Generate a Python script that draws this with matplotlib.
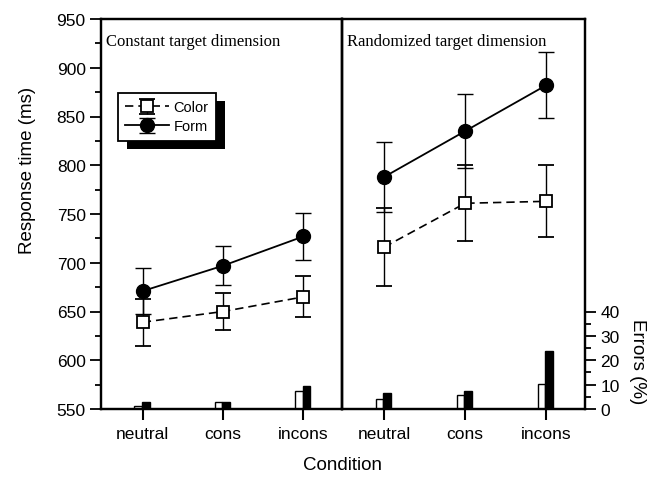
import matplotlib
matplotlib.use("Agg")
import matplotlib.pyplot as plt
from matplotlib.patches import Rectangle
from matplotlib.ticker import MultipleLocator
import numpy as np

conditions = ["neutral", "cons", "incons"]
panels = ["Constant target dimension", "Randomized target dimension"]

# Response times (ms): [panel][condition]
rt_color = [[639, 650, 665], [716, 761, 763]]
rt_color_err = [[24, 19, 21], [40, 39, 37]]
rt_form = [[671, 697, 727], [788, 835, 882]]
rt_form_err = [[24, 20, 24], [36, 38, 34]]

# Errors (%)
err_color = [[1.2, 2.7, 7.4], [3.9, 5.7, 10.3]]
err_form = [[2.9, 2.7, 9.5], [6.6, 7.2, 23.8]]

rt_ticks = [550, 600, 650, 700, 750, 800, 850, 900, 950]
err_ticks = [0, 10, 20, 30, 40]

plt.rcParams['font.family'] = ['Liberation Sans', 'DejaVu Sans']

fig = plt.figure(figsize=(6.61, 4.81), dpi=100)
W, H = 661, 481
left, mid, right = 101, 342, 585
top, bot = 20, 410
axL = fig.add_axes([left / W, 1 - bot / H, (mid - left) / W, (bot - top) / H])
axR = fig.add_axes([mid / W, 1 - bot / H, (right - mid) / W, (bot - top) / H])

x = np.arange(len(conditions))
bw = 0.095
for i, ax in enumerate([axL, axR]):
    ax.set_xlim(-0.52, 2.48)
    ax.set_ylim(550, 950)
    tw = ax.twinx()
    tw.set_ylim(0, 160)
    tw.bar(x - bw / 2 - 0.01, err_color[i], width=bw, facecolor='white',
           edgecolor='black', linewidth=1.0, zorder=2)
    tw.bar(x + bw / 2 - 0.01, err_form[i], width=bw, facecolor='black',
           edgecolor='black', linewidth=1.0, zorder=2)
    ax.errorbar(x, rt_color[i], yerr=rt_color_err[i], color='black', linestyle=(0, (5, 3)),
                linewidth=1.2, marker='s', markersize=9, markerfacecolor='white',
                markeredgecolor='black', markeredgewidth=1.3, ecolor='black',
                elinewidth=1.0, capsize=5.5, capthick=1.0, label='Color', zorder=3)
    ax.errorbar(x, rt_form[i], yerr=rt_form_err[i], color='black', linestyle='-',
                linewidth=1.3, marker='o', markersize=10, markerfacecolor='black',
                markeredgecolor='black', ecolor='black',
                elinewidth=1.0, capsize=5.5, capthick=1.0, label='Form', zorder=4)
    ax.set_zorder(tw.get_zorder() + 1)
    ax.patch.set_visible(False)
    for a in (ax, tw):
        for s in a.spines.values():
            s.set_linewidth(1.6)
    ax.set_xticks(x)
    ax.set_xticklabels(conditions, fontsize=12.5)
    ax.tick_params(axis='x', direction='out', length=8, width=1.5, pad=4)
    ax.text(0.02, 0.965, panels[i], transform=ax.transAxes, fontsize=12,
            family=['Liberation Serif'], ha='left', va='top')
    if i == 0:
        ax.set_yticks(rt_ticks)
        ax.yaxis.set_minor_locator(MultipleLocator(25))
        ax.tick_params(axis='y', which='major', direction='out', length=8, width=1.3,
                       labelsize=12.5, pad=3)
        ax.tick_params(axis='y', which='minor', direction='out', length=4, width=1.3)
        ax.set_ylabel("Response time (ms)", fontsize=13.5)
        ax.yaxis.set_label_coords(-0.268, 0.615)
        tw.set_yticks([])
    else:
        ax.set_yticks([])
        tw.set_yticks(err_ticks)
        tw.set_yticks([5, 15, 25, 35], minor=True)
        tw.tick_params(axis='y', which='major', direction='out', length=8, width=1.3,
                       labelsize=12.5, pad=3)
        tw.tick_params(axis='y', which='minor', direction='out', length=4, width=1.3)
        tw.set_ylabel("Errors (%)", fontsize=13.5, rotation=270)
        tw.yaxis.set_label_coords(1.25, 0.125)

fig.text((left + right) / 2 / W, 1 - 466 / H, "Condition", fontsize=13.5,
         ha='center', va='center')

leg = axL.legend(loc='upper left', bbox_to_anchor=(0.07, 0.81), borderaxespad=0,
                 fontsize=10.5, frameon=True, fancybox=False, framealpha=1,
                 edgecolor='black', handlelength=3.0, handletextpad=0.3,
                 borderpad=0.5, labelspacing=0.35)
leg.get_frame().set_linewidth(1.3)
fig.canvas.draw()
bb = leg.get_window_extent().transformed(fig.transFigure.inverted())
dx, dy = 9 / W, 8 / H
sh = Rectangle((bb.x0 + dx, bb.y0 - dy), bb.width, bb.height, transform=fig.transFigure,
               facecolor='black', edgecolor='none', zorder=4.9, clip_on=False)
axL.add_patch(sh)

fig.savefig("out.png", dpi=100)
